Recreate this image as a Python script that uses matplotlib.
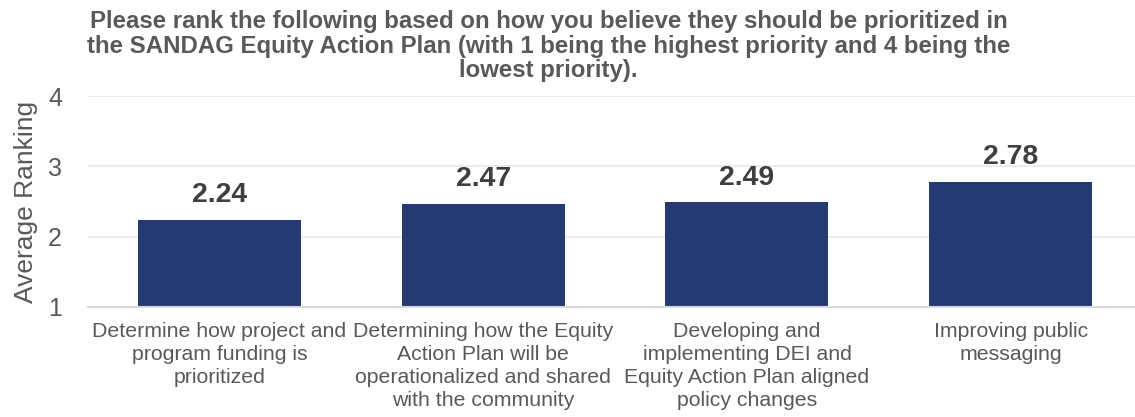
import matplotlib
matplotlib.use("Agg")
import matplotlib.pyplot as plt

categories = [
    "Determine how project and\nprogram funding is\nprioritized",
    "Determining how the Equity\nAction Plan will be\noperationalized and shared\nwith the community",
    "Developing and\nimplementing DEI and\nEquity Action Plan aligned\npolicy changes",
    "Improving public\nmessaging",
]
values = [2.24, 2.47, 2.49, 2.78]
yticks = [1, 2, 3, 4]
title = ("Please rank the following based on how you believe they should be prioritized in\n"
         "the SANDAG Equity Action Plan (with 1 being the highest priority and 4 being the\n"
         "lowest priority).")

plt.rcParams['font.family'] = ['Liberation Sans', 'DejaVu Sans']

W, H = 1135, 417
fig = plt.figure(figsize=(W / 100, H / 100), dpi=100)
ax_left, ax_right = 87.7, 1142.5
ax_bottom, ax_top = 307, 96
ax = fig.add_axes([ax_left / W, 1 - ax_bottom / H,
                   (ax_right - ax_left) / W, (ax_bottom - ax_top) / H])

x = list(range(len(categories)))
ax.bar(x, [v - 1 for v in values], bottom=1, width=0.618, color="#263A72")
for xi, v in zip(x, values):
    ax.text(xi, v + 0.25, f"{v:.2f}", ha="center", va="baseline",
            fontsize=20.4, fontweight="bold", color="#3F3F3F")

ax.set_ylim(1, 4)
ax.set_xlim(-0.5, len(categories) - 0.5)
ax.set_yticks(yticks)
ax.set_yticklabels([str(t) for t in yticks], fontsize=18, color="#595959")
ax.set_xticks(x)
ax.set_xticklabels(categories, fontsize=15.3, color="#595959", linespacing=1.25)
ax.tick_params(axis="both", length=0)
ax.tick_params(axis="y", pad=18.5)
ax.tick_params(axis="x", pad=11)
ax.grid(axis="y", color="#E8E8E8", linewidth=1.2)
ax.set_axisbelow(True)
for s in ["top", "right", "left"]:
    ax.spines[s].set_visible(False)
ax.spines["bottom"].set_color("#D9D9D9")
ax.spines["bottom"].set_linewidth(1.5)
ax.set_ylabel("Average Ranking", fontsize=19, color="#595959", labelpad=7)

fig.text(548.5 / W, 1 - 10 / H, title, ha="center", va="top", fontsize=17.25,
         fontweight="bold", color="#595959", linespacing=1.09)

fig.savefig("out.png", dpi=100)
